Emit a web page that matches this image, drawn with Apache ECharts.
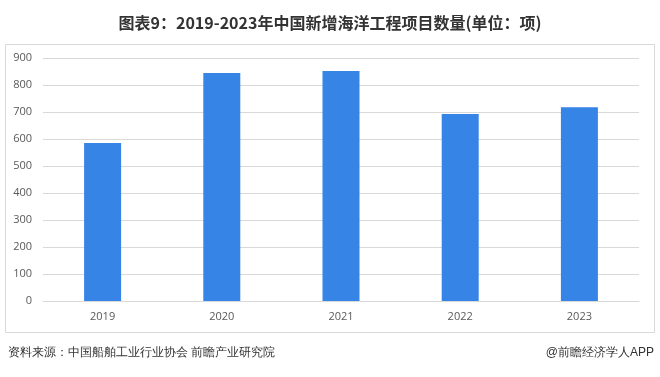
<!DOCTYPE html>
<html><head><meta charset="utf-8">
<script src="https://cdn.jsdelivr.net/npm/echarts@6/dist/echarts.min.js"></script>
<style>html,body{margin:0;padding:0;background:#fff}#c{width:660px;height:377px}</style>
</head><body><div id="c"></div>
<script>
const categories = ['2019','2020','2021','2022','2023'];
const values = [585, 844, 852, 693, 718];
const yTicks = [0,100,200,300,400,500,600,700,800,900];
const titleText = '图表9：2019-2023年中国新增海洋工程项目数量(单位：项)';
const sourceText = '资料来源：中国船舶工业行业协会 前瞻产业研究院';
const creditText = '@前瞻经济学人APP';

const chart = echarts.init(document.getElementById('c'), null, {renderer:'canvas'});
chart.setOption({
  animation:false,
  backgroundColor:'#fff',
  title:{text:titleText,left:'center',top:10,textStyle:{fontSize:16,fontWeight:'bold',color:'#333',fontFamily:'"Noto Sans CJK SC", sans-serif'}},
  graphic:[
    {type:'rect',shape:{x:5.5,y:44.5,width:649,height:288},style:{fill:'none',stroke:'#d9d9d9',lineWidth:1},silent:true},
    {type:'text',left:8,top:347,style:{text:sourceText,fontSize:12,fill:'#333',font:'12px "Noto Sans CJK SC", sans-serif'}},
    {type:'text',right:6,top:347,style:{text:creditText,fontSize:12,fill:'#333',font:'12px "Noto Sans CJK SC", sans-serif'}}
  ],
  grid:{left:43,right:21,top:58,bottom:76},
  xAxis:{type:'category',data:categories,
    axisLine:{show:true,lineStyle:{color:'#d9d9d9'}},axisTick:{show:false},
    axisLabel:{color:'#595959',fontSize:11,margin:10,fontFamily:'"Open Sans", sans-serif'}},
  yAxis:{type:'value',min:0,max:900,interval:100,
    axisLine:{show:false},axisTick:{show:false},
    splitLine:{lineStyle:{color:'#d9d9d9'}},
    axisLabel:{color:'#595959',fontSize:11,margin:11,fontFamily:'"Open Sans", sans-serif',
      formatter:v=>yTicks.includes(v)?String(v):''}},
  series:[{type:'bar',data:values,barWidth:37,itemStyle:{color:'#3584E6'}}]
});
</script></body></html>
